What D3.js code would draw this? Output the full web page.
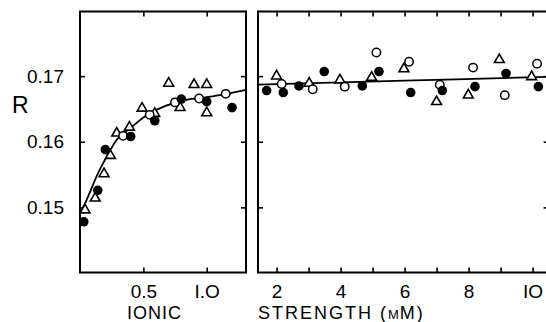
<!DOCTYPE html>
<html>
<head>
<meta charset="utf-8">
<script src="https://cdn.jsdelivr.net/npm/d3@7"></script>
<style>
  body { margin: 0; background: #fff; }
  svg { display: block; font-family: "Liberation Sans", Arial, sans-serif; }
  .tick line { stroke: #000; stroke-width: 1.6; }
  .tick text { font-size: 19px; fill: #000; }
</style>
</head>
<body>
<script>
//data: [ionic strength, R]
//left panel (0 - 1.3 mM)
var leftFilled = [[0.03,0.1478],[0.14,0.1526],[0.20,0.1588],[0.40,0.1608],[0.59,0.1632],
                  [0.80,0.1665],[1.00,0.1661],[1.20,0.1652]];
var leftOpen = [[0.34,0.1609],[0.55,0.1641],[0.75,0.1660],[0.94,0.1666],[1.15,0.1673]];
var leftTri = [[0.04,0.1496],[0.12,0.1514],[0.19,0.1551],[0.24,0.1579],[0.29,0.1613],
               [0.39,0.1622],[0.49,0.1651],[0.59,0.1643],[0.70,0.1689],[0.79,0.1652],
               [0.90,0.1687],[1.00,0.1687],[1.00,0.1644]];
//fitted curve, read at a few points
var leftCurve = [[0,0.1491],[0.04,0.1506],[0.08,0.1524],[0.13,0.1547],[0.21,0.1577],
                 [0.29,0.1603],[0.40,0.1621],[0.50,0.1637],[0.68,0.1655],[0.84,0.1664],
                 [1.00,0.1668],[1.16,0.1673],[1.31,0.1679]];

//right panel (1.4 - 10.5 mM)
var rightFilled = [[1.69,0.1678],[2.21,0.1675],[2.70,0.1685],[3.49,0.1707],[4.68,0.1685],
                   [5.20,0.1707],[6.19,0.1675],[7.18,0.1678],[8.20,0.1684],[9.17,0.1704],
                   [10.18,0.1684]];
var rightOpen = [[2.16,0.1688],[3.13,0.1680],[4.13,0.1684],[5.12,0.1736],[6.14,0.1722],
                 [7.10,0.1687],[8.14,0.1713],[9.13,0.1671],[10.14,0.1719]];
var rightTri = [[2.00,0.1700],[3.02,0.1689],[3.98,0.1694],[4.97,0.1698],[5.98,0.1711],
                [7.00,0.1661],[7.99,0.1671],[8.96,0.1725],[9.97,0.1699]];
var rightCurve = [[1.42,0.1687],[6.0,0.1693],[10.5,0.1699]];

//ticks and labels
var rTicks = [0.15, 0.16, 0.17];
var leftXTicks = [0.5, 1.0];
var leftXLabels = ["0.5", "I.O"];
var rightXTicks = [2, 3, 4, 5, 6, 7, 8, 9, 10];
var rightXLabels = {2: "2", 4: "4", 6: "6", 8: "8", 10: "IO"};

var width = 546, height = 322;

var svg = d3.select("body").append("svg")
    .attr("width", width)
    .attr("height", height);

//shared y scale
var y = d3.scaleLinear().domain([0.14, 0.18]).range([273, 10.5]);

//panel frames
var panels = [
    {x: d3.scaleLinear().domain([0, 1.31]).range([80, 246]),
     ticks: leftXTicks, fmt: function(d){ return leftXLabels[leftXTicks.indexOf(d)]; },
     filled: leftFilled, open: leftOpen, tri: leftTri, curve: leftCurve, yLabels: true},
    {x: d3.scaleLinear().domain([1.42, 10.5]).range([258, 548.6]),
     ticks: rightXTicks, fmt: function(d){ return rightXLabels[d] || ""; },
     filled: rightFilled, open: rightOpen, tri: rightTri, curve: rightCurve, yLabels: false}
];

var frameTop = 11.5, frameBottom = 272.5;

panels.forEach(function(p){
    var x = p.x,
        x0 = x.range()[0], x1 = x.range()[1];
    var g = svg.append("g");

    //bottom axis with labels, ticks pointing inward
    g.append("g")
        .attr("transform", "translate(0," + frameBottom + ")")
        .call(d3.axisBottom(x).tickValues(p.ticks).tickSize(-5).tickPadding(12).tickFormat(p.fmt))
        .call(function(a){ a.select(".domain").remove(); });

    //top axis, ticks only
    g.append("g")
        .attr("transform", "translate(0," + frameTop + ")")
        .call(d3.axisTop(x).tickValues(p.ticks).tickSize(-5).tickFormat(""))
        .call(function(a){ a.select(".domain").remove(); });

    //left axis
    g.append("g")
        .attr("transform", "translate(" + x0 + ",0)")
        .call(d3.axisLeft(y).tickValues(rTicks).tickSize(-5).tickPadding(16)
            .tickFormat(p.yLabels ? d3.format(".2f") : ""))
        .call(function(a){ a.select(".domain").remove(); });

    //right axis
    g.append("g")
        .attr("transform", "translate(" + x1 + ",0)")
        .call(d3.axisRight(y).tickValues(rTicks).tickSize(-5).tickFormat(""))
        .call(function(a){ a.select(".domain").remove(); });

    //frame
    g.append("rect")
        .attr("x", x0).attr("y", frameTop)
        .attr("width", x1 - x0).attr("height", frameBottom - frameTop)
        .attr("fill", "none")
        .attr("stroke", "#000")
        .attr("stroke-width", 2);

    //fitted line
    var line = d3.line()
        .x(function(d){ return x(d[0]); })
        .y(function(d){ return y(d[1]); })
        .curve(d3.curveMonotoneX);

    g.append("path")
        .datum(p.curve)
        .attr("d", line)
        .attr("fill", "none")
        .attr("stroke", "#000")
        .attr("stroke-width", 1.8);

    //triangles
    g.selectAll(".tri")
        .data(p.tri)
        .enter()
        .append("path")
        .attr("class", "tri")
        .attr("d", d3.symbol().type(d3.symbolTriangle).size(42))
        .attr("transform", function(d){ return "translate(" + x(d[0]) + "," + y(d[1]) + ")"; })
        .attr("fill", "#fff")
        .attr("stroke", "#000")
        .attr("stroke-width", 1.6);

    //open circles
    g.selectAll(".open")
        .data(p.open)
        .enter()
        .append("circle")
        .attr("class", "open")
        .attr("cx", function(d){ return x(d[0]); })
        .attr("cy", function(d){ return y(d[1]); })
        .attr("r", 4.2)
        .attr("fill", "#fff")
        .attr("stroke", "#000")
        .attr("stroke-width", 1.5);

    //filled circles
    g.selectAll(".filled")
        .data(p.filled)
        .enter()
        .append("circle")
        .attr("class", "filled")
        .attr("cx", function(d){ return x(d[0]); })
        .attr("cy", function(d){ return y(d[1]); })
        .attr("r", 4.8)
        .attr("fill", "#000");
});

//axis titles
svg.append("text")
    .attr("x", 12).attr("y", 113)
    .attr("font-size", 23)
    .text("R");

var title = svg.append("text")
    .attr("y", 318.5)
    .attr("font-size", 18)
    .attr("letter-spacing", 1);
title.append("tspan").attr("x", 127).text("IONIC ");
title.append("tspan").attr("x", 258).attr("letter-spacing", 2).text("STRENGTH (");
title.append("tspan").style("font-variant", "small-caps").text("m");
title.append("tspan").attr("letter-spacing", 2).text("M)");
</script>
</body>
</html>
